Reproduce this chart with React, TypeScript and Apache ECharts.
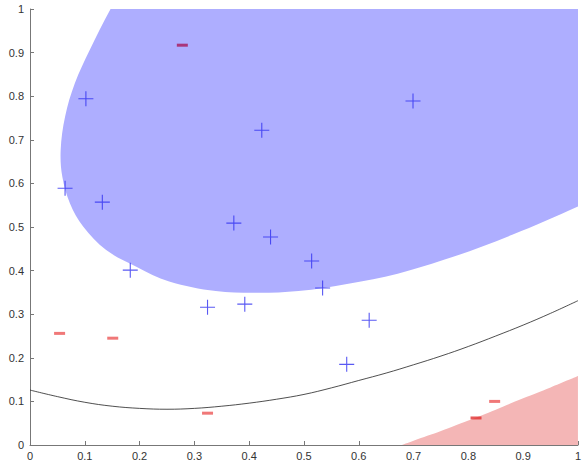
import React, { useEffect, useRef } from "react";
import * as echarts from "echarts";

const plusPoints: [number, number][] = [
  [0.102, 0.794], [0.064, 0.589], [0.132, 0.557], [0.183, 0.401],
  [0.324, 0.316], [0.392, 0.323], [0.372, 0.509], [0.439, 0.477],
  [0.423, 0.722], [0.699, 0.789], [0.514, 0.422], [0.534, 0.36],
  [0.619, 0.286], [0.578, 0.185],
];

const minusPoints: [number, number][] = [
  [0.278, 0.917], [0.054, 0.256], [0.151, 0.245], [0.324, 0.073],
  [0.814, 0.062], [0.848, 0.1],
];

const boundaryCurve: [number, number][] = [
  [0, 0.126], [0.05, 0.111], [0.1, 0.098], [0.15, 0.089], [0.2, 0.084],
  [0.25, 0.082], [0.3, 0.084], [0.35, 0.089], [0.4, 0.096], [0.45, 0.105],
  [0.5, 0.116], [0.55, 0.131], [0.6, 0.148], [0.65, 0.165], [0.7, 0.184],
  [0.75, 0.204], [0.8, 0.226], [0.85, 0.25], [0.9, 0.275], [0.95, 0.302],
  [1, 0.331],
];

const redRegion: [number, number][] = [
  [0.678, 0], [0.7, 0.01], [0.75, 0.032], [0.8, 0.056], [0.85, 0.081],
  [0.9, 0.107], [0.95, 0.132], [1, 0.158],
];

const blueRegion: [number, number][] = [
  [0.2, 1.12], [0.147, 1], [0.109, 0.906], [0.082, 0.83], [0.064, 0.753], [0.056, 0.677],
  [0.059, 0.615], [0.073, 0.554], [0.097, 0.501], [0.139, 0.447],
  [0.194, 0.409], [0.254, 0.375], [0.339, 0.353],
  [0.417, 0.349], [0.49, 0.353], [0.581, 0.37], [0.671, 0.393],
  [0.771, 0.431], [0.88, 0.482], [1, 0.547], [1.08, 0.597],
  [1.15, 0.8], [1.15, 1.15], [0.6, 1.25],
];

export default function App() {
  const ref = useRef<HTMLDivElement>(null);
  useEffect(() => {
    if (!ref.current) return;
    const chart = echarts.init(ref.current, null, { renderer: "svg" });
    const axisCommon = {
      type: "value" as const,
      min: 0,
      max: 1,
      interval: 0.1,
      splitLine: { show: false },
      axisLine: { show: true, lineStyle: { color: "#777", width: 1 } },
      axisTick: { show: true, inside: true, length: 4, lineStyle: { color: "#777" } },
      axisLabel: {
        color: "#333",
        fontSize: 11,
        fontFamily: "Liberation Sans, Arial, sans-serif",
      },
    };
    chart.setOption({
      animation: false,
      grid: { left: 30, right: 3, top: 9, bottom: 16, containLabel: false },
      xAxis: { ...axisCommon, axisLabel: { ...axisCommon.axisLabel, margin: 5 } },
      yAxis: { ...axisCommon, axisLabel: { ...axisCommon.axisLabel, margin: 6 } },
      series: [
        {
          type: "custom",
          data: [[0, 0]],
          clip: true,
          silent: true,
          z: 1,
          renderItem: (_params: any, api: any) => ({
            type: "polygon",
            shape: { points: blueRegion.map((p) => api.coord(p)), smooth: 0.35 },
            style: { fill: "#aeaeff", stroke: "none" },
          }),
        },
        {
          type: "line",
          data: redRegion,
          smooth: 0.4,
          symbol: "none",
          lineStyle: { width: 0 },
          areaStyle: { color: "#f4b6b6", opacity: 1 },
          z: 2,
        },
        {
          type: "line",
          data: boundaryCurve,
          smooth: 0.4,
          symbol: "none",
          lineStyle: { color: "#222", width: 0.8 },
          z: 3,
        },
        {
          type: "scatter",
          data: plusPoints,
          symbol: "path://M0,7H14M7,0V14",
          symbolSize: 15,
          itemStyle: { color: "none", borderColor: "#3030f0", borderWidth: 1.1 },
          z: 4,
        },
        {
          type: "scatter",
          data: minusPoints.map((p, i) => ({
            value: p,
            itemStyle: i === 0 ? { color: "#a8185a" } : i === 4 ? { color: "#e03030" } : undefined,
          })),
          symbol: "rect",
          symbolSize: [11, 3],
          itemStyle: { color: "#ec5656" },
          z: 5,
        },
      ],
    });
    return () => chart.dispose();
  }, []);
  return <div ref={ref} style={{ width: 584, height: 461, position: "absolute", left: 0, top: 0 }} />;
}
